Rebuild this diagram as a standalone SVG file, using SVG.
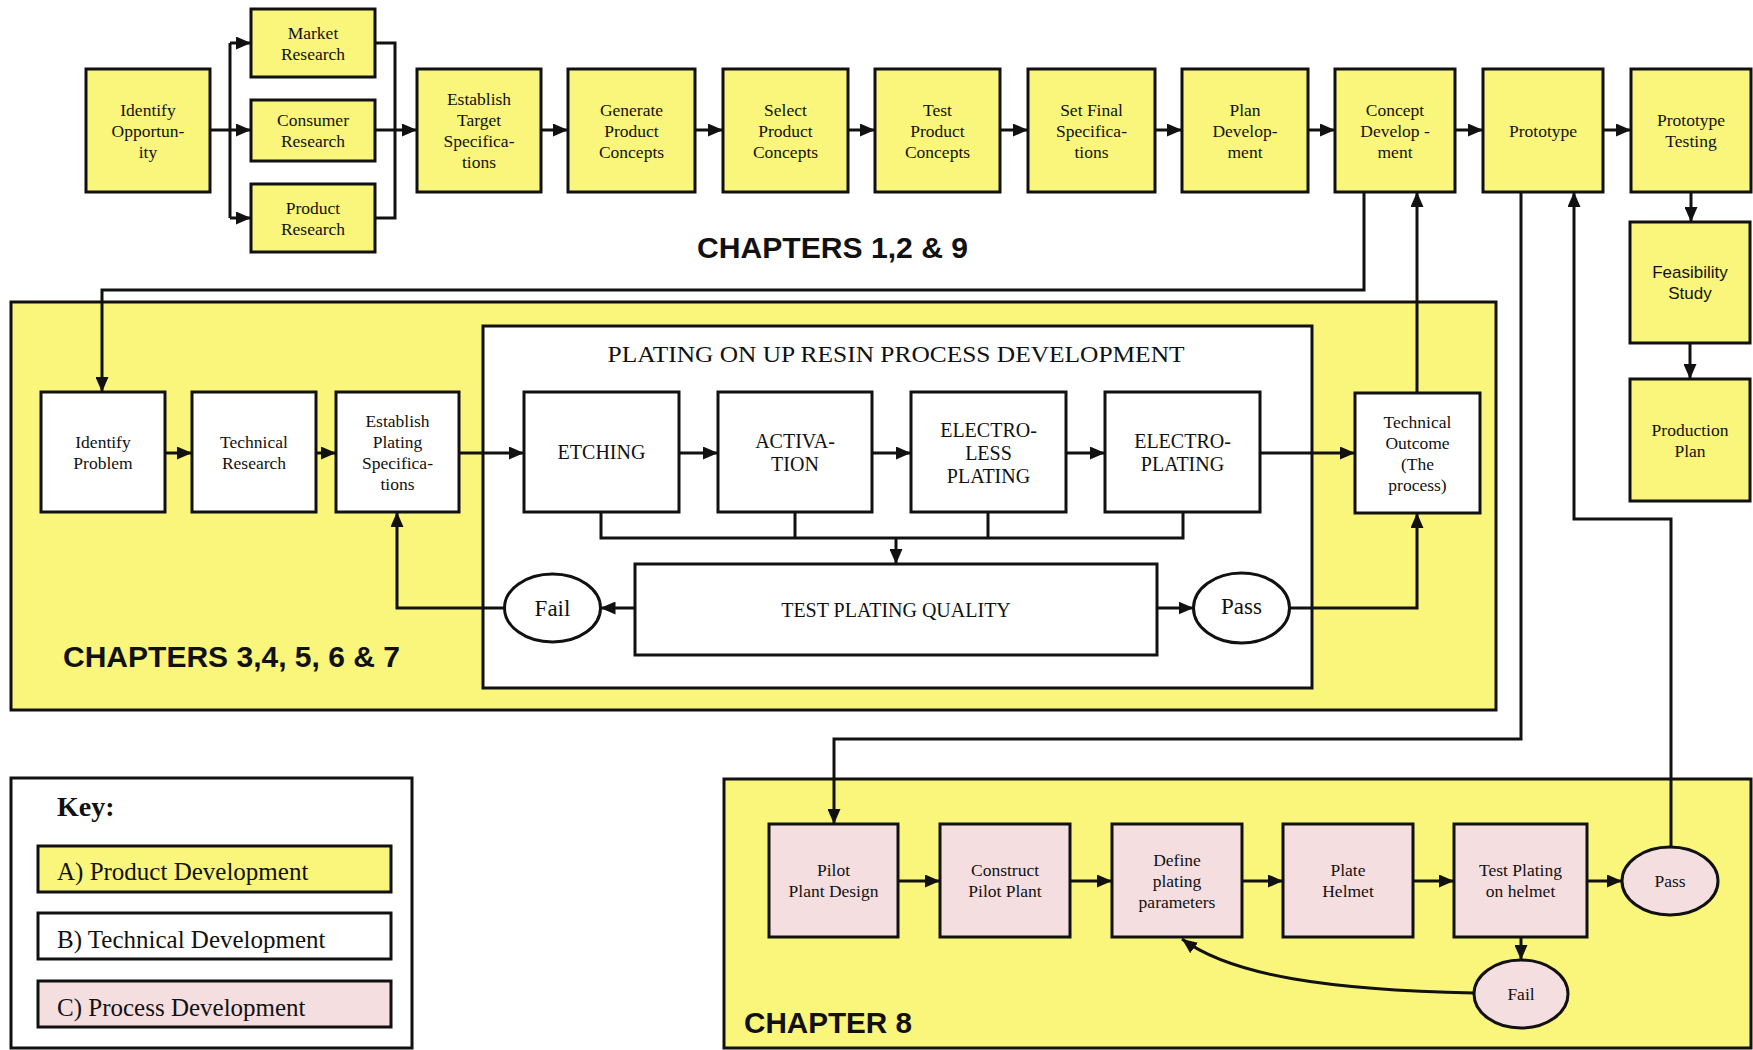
<svg xmlns="http://www.w3.org/2000/svg" width="1753" height="1050" viewBox="0 0 1753 1050">
<style>
.y{fill:#FAF67C;stroke:#111;stroke-width:3}
.w{fill:#fff;stroke:#111;stroke-width:3}
.p{fill:#F5DEE0;stroke:#111;stroke-width:3}
.c{fill:none;stroke:#111;stroke-width:3}
.a{marker-end:url(#ah)}
text{fill:#111}
.t{font-family:"Liberation Serif","Times New Roman",serif;font-size:17.5px;text-anchor:middle}
.s{font-family:"Liberation Sans",Arial,sans-serif;font-size:17px;text-anchor:middle}
.big{font-family:"Liberation Serif","Times New Roman",serif;font-size:20px;text-anchor:middle}
.fp{font-family:"Liberation Serif","Times New Roman",serif;font-size:23px;text-anchor:middle}
.h{font-family:"Liberation Sans",Arial,sans-serif;font-size:29px;font-weight:bold}
.k{font-family:"Liberation Serif","Times New Roman",serif;font-size:25px}
</style>
<defs>
<marker id="ah" markerUnits="userSpaceOnUse" markerWidth="15" markerHeight="13" refX="15" refY="6.5" orient="auto">
<path d="M0,0 L15,6.5 L0,13 z" fill="#111"/>
</marker>
</defs>
<rect width="1753" height="1050" fill="#fff"/>

<!-- containers -->
<g id="chapter3-area">
<rect class="y" x="11" y="302" width="1485" height="408"/>
<text class="h" x="63" y="667" textLength="337" lengthAdjust="spacingAndGlyphs">CHAPTERS 3,4, 5, 6 &amp; 7</text>
</g>
<g id="plating-process-area">
<rect class="w" x="483" y="326" width="829" height="362"/>
<text x="896" y="362" style="font-family:'Liberation Serif','Times New Roman',serif;font-size:24px;text-anchor:middle" textLength="577" lengthAdjust="spacingAndGlyphs">PLATING ON UP RESIN PROCESS DEVELOPMENT</text>
</g>
<g id="chapter8-area">
<rect class="y" x="724" y="779" width="1027" height="269"/>
<text class="h" x="744" y="1033" textLength="168" lengthAdjust="spacingAndGlyphs">CHAPTER 8</text>
</g>
<g id="chapters129-label">
<text class="h" x="697" y="258" textLength="271" lengthAdjust="spacingAndGlyphs">CHAPTERS 1,2 &amp; 9</text>
</g>
<g id="key">
<rect class="w" x="11" y="778" width="401" height="270"/>
<text x="57" y="816" style="font-family:'Liberation Serif','Times New Roman',serif;font-size:28px;font-weight:bold">Key:</text>
<rect class="y" x="38" y="846" width="353" height="46"/>
<text class="k" x="57" y="880">A) Product Development</text>
<rect class="w" x="38" y="913" width="353" height="46"/>
<text class="k" x="57" y="948">B) Technical Development</text>
<rect class="p" x="38" y="981" width="353" height="46"/>
<text class="k" x="57" y="1016">C) Process Development</text>
</g>

<!-- connectors -->
<g id="connectors">
<path class="c" d="M210,130 H230"/>
<path class="c" d="M230,43 V218"/>
<path class="c a" d="M230,43 H251"/>
<path class="c a" d="M230,130 H251"/>
<path class="c a" d="M230,218 H251"/>
<path class="c" d="M375,43 H395 V218 H375"/>
<path class="c a" d="M375,130 H417"/>
<path class="c a" d="M541,130 H568"/>
<path class="c a" d="M695,130 H723"/>
<path class="c a" d="M848,130 H875"/>
<path class="c a" d="M1000,130 H1028"/>
<path class="c a" d="M1155,130 H1182"/>
<path class="c a" d="M1308,130 H1335"/>
<path class="c a" d="M1455,130 H1483"/>
<path class="c a" d="M1603,130 H1631"/>
<path class="c a" d="M1691,192 V222"/>
<path class="c a" d="M1690,343 V379"/>

<path class="c a" d="M1364,192 V290 H102 V392"/>
<path class="c a" d="M165,453 H192"/>
<path class="c a" d="M316,453 H336"/>
<path class="c a" d="M459,453 H524"/>
<path class="c a" d="M679,453 H718"/>
<path class="c a" d="M872,453 H911"/>
<path class="c a" d="M1066,453 H1105"/>
<path class="c a" d="M1260,453 H1355"/>
<path class="c" d="M601,512 V538 H1183 V512"/>
<path class="c" d="M795,512 V538"/>
<path class="c" d="M988,512 V538"/>
<path class="c a" d="M896,538 V564"/>
<path class="c a" d="M635,608 H600.5"/>
<path class="c a" d="M504.5,608 H397 V512"/>
<path class="c a" d="M1157,608 H1193.5"/>
<path class="c a" d="M1289.5,608 H1417 V513"/>
<path class="c a" d="M1417,393 V192"/>

<path class="c a" d="M1521,192 V739 H834 V824"/>
<path class="c a" d="M898,881 H940"/>
<path class="c a" d="M1070,881 H1112"/>
<path class="c a" d="M1242,881 H1283"/>
<path class="c a" d="M1413,881 H1454"/>
<path class="c a" d="M1587,881 H1622"/>
<path class="c a" d="M1521,937 V960"/>
<path class="c a" d="M1474,993 C1330,990 1232,976 1182,939"/>
<path class="c a" d="M1671,847 V519 H1574 V192"/>
</g>

<!-- top row nodes -->
<g id="identify-opportunity">
<rect class="y" x="86" y="69" width="124" height="123"/>
<text class="t" x="148" y="115.5">Identify</text>
<text class="t" x="148" y="136.5">Opportun-</text>
<text class="t" x="148" y="157.5">ity</text>
</g>
<g id="market-research">
<rect class="y" x="251" y="9" width="124" height="68"/>
<text class="t" x="313" y="38.5">Market</text>
<text class="t" x="313" y="59.5">Research</text>
</g>
<g id="consumer-research">
<rect class="y" x="251" y="100" width="124" height="61"/>
<text class="t" x="313" y="126">Consumer</text>
<text class="t" x="313" y="147">Research</text>
</g>
<g id="product-research">
<rect class="y" x="251" y="184" width="124" height="68"/>
<text class="t" x="313" y="213.5">Product</text>
<text class="t" x="313" y="234.5">Research</text>
</g>
<g id="establish-target-specifications">
<rect class="y" x="417" y="69" width="124" height="123"/>
<text class="t" x="479" y="105">Establish</text>
<text class="t" x="479" y="126">Target</text>
<text class="t" x="479" y="147">Specifica-</text>
<text class="t" x="479" y="168">tions</text>
</g>
<g id="generate-product-concepts">
<rect class="y" x="568" y="69" width="127" height="123"/>
<text class="t" x="631.5" y="115.5">Generate</text>
<text class="t" x="631.5" y="136.5">Product</text>
<text class="t" x="631.5" y="157.5">Concepts</text>
</g>
<g id="select-product-concepts">
<rect class="y" x="723" y="69" width="125" height="123"/>
<text class="t" x="785.5" y="115.5">Select</text>
<text class="t" x="785.5" y="136.5">Product</text>
<text class="t" x="785.5" y="157.5">Concepts</text>
</g>
<g id="test-product-concepts">
<rect class="y" x="875" y="69" width="125" height="123"/>
<text class="t" x="937.5" y="115.5">Test</text>
<text class="t" x="937.5" y="136.5">Product</text>
<text class="t" x="937.5" y="157.5">Concepts</text>
</g>
<g id="set-final-specifications">
<rect class="y" x="1028" y="69" width="127" height="123"/>
<text class="t" x="1091.5" y="115.5">Set Final</text>
<text class="t" x="1091.5" y="136.5">Specifica-</text>
<text class="t" x="1091.5" y="157.5">tions</text>
</g>
<g id="plan-development">
<rect class="y" x="1182" y="69" width="126" height="123"/>
<text class="t" x="1245" y="115.5">Plan</text>
<text class="t" x="1245" y="136.5">Develop-</text>
<text class="t" x="1245" y="157.5">ment</text>
</g>
<g id="concept-development">
<rect class="y" x="1335" y="69" width="120" height="123"/>
<text class="t" x="1395" y="115.5">Concept</text>
<text class="t" x="1395" y="136.5">Develop -</text>
<text class="t" x="1395" y="157.5">ment</text>
</g>
<g id="prototype">
<rect class="y" x="1483" y="69" width="120" height="123"/>
<text class="t" x="1543" y="136.5">Prototype</text>
</g>
<g id="prototype-testing">
<rect class="y" x="1631" y="69" width="120" height="123"/>
<text class="t" x="1691" y="126">Prototype</text>
<text class="t" x="1691" y="147">Testing</text>
</g>
<g id="feasibility-study">
<rect class="y" x="1630" y="222" width="120" height="121"/>
<text class="s" x="1690" y="278">Feasibility</text>
<text class="s" x="1690" y="299">Study</text>
</g>
<g id="production-plan">
<rect class="y" x="1630" y="379" width="120" height="122"/>
<text class="t" x="1690" y="435.5">Production</text>
<text class="t" x="1690" y="456.5">Plan</text>
</g>

<!-- chapter 3-7 nodes -->
<g id="identify-problem">
<rect class="w" x="41" y="392" width="124" height="120"/>
<text class="t" x="103" y="447.5">Identify</text>
<text class="t" x="103" y="468.5">Problem</text>
</g>
<g id="technical-research">
<rect class="w" x="192" y="392" width="124" height="120"/>
<text class="t" x="254" y="447.5">Technical</text>
<text class="t" x="254" y="468.5">Research</text>
</g>
<g id="establish-plating-specifications">
<rect class="w" x="336" y="392" width="123" height="120"/>
<text class="t" x="397.5" y="426.5">Establish</text>
<text class="t" x="397.5" y="447.5">Plating</text>
<text class="t" x="397.5" y="468.5">Specifica-</text>
<text class="t" x="397.5" y="489.5">tions</text>
</g>
<g id="etching">
<rect class="w" x="524" y="392" width="155" height="120"/>
<text class="big" x="601.5" y="459">ETCHING</text>
</g>
<g id="activation">
<rect class="w" x="718" y="392" width="154" height="120"/>
<text class="big" x="795" y="448">ACTIVA-</text>
<text class="big" x="795" y="471">TION</text>
</g>
<g id="electroless-plating">
<rect class="w" x="911" y="392" width="155" height="120"/>
<text class="big" x="988.5" y="436.5">ELECTRO-</text>
<text class="big" x="988.5" y="459.5">LESS</text>
<text class="big" x="988.5" y="482.5">PLATING</text>
</g>
<g id="electroplating">
<rect class="w" x="1105" y="392" width="155" height="120"/>
<text class="big" x="1182.5" y="448">ELECTRO-</text>
<text class="big" x="1182.5" y="471">PLATING</text>
</g>
<g id="technical-outcome">
<rect class="w" x="1355" y="393" width="125" height="120"/>
<text class="t" x="1417.5" y="427.5">Technical</text>
<text class="t" x="1417.5" y="448.5">Outcome</text>
<text class="t" x="1417.5" y="469.5">(The</text>
<text class="t" x="1417.5" y="490.5">process)</text>
</g>
<g id="test-plating-quality">
<rect class="w" x="635" y="564" width="522" height="91"/>
<text class="big" x="896" y="617">TEST PLATING QUALITY</text>
</g>
<g id="fail-1">
<ellipse class="w" cx="552.5" cy="608" rx="48" ry="34"/>
<text class="fp" x="552.5" y="616">Fail</text>
</g>
<g id="pass-1">
<ellipse class="w" cx="1241.5" cy="608" rx="48" ry="35"/>
<text class="fp" x="1241.5" y="614">Pass</text>
</g>

<!-- chapter 8 nodes -->
<g id="pilot-plant-design">
<rect class="p" x="769" y="824" width="129" height="113"/>
<text class="t" x="833.5" y="876">Pilot</text>
<text class="t" x="833.5" y="897">Plant Design</text>
</g>
<g id="construct-pilot-plant">
<rect class="p" x="940" y="824" width="130" height="113"/>
<text class="t" x="1005" y="876">Construct</text>
<text class="t" x="1005" y="897">Pilot Plant</text>
</g>
<g id="define-plating-parameters">
<rect class="p" x="1112" y="824" width="130" height="113"/>
<text class="t" x="1177" y="865.5">Define</text>
<text class="t" x="1177" y="886.5">plating</text>
<text class="t" x="1177" y="907.5">parameters</text>
</g>
<g id="plate-helmet">
<rect class="p" x="1283" y="824" width="130" height="113"/>
<text class="t" x="1348" y="876">Plate</text>
<text class="t" x="1348" y="897">Helmet</text>
</g>
<g id="test-plating-on-helmet">
<rect class="p" x="1454" y="824" width="133" height="113"/>
<text class="t" x="1520.5" y="876">Test Plating</text>
<text class="t" x="1520.5" y="897">on helmet</text>
</g>
<g id="pass-2">
<ellipse class="p" cx="1670" cy="881" rx="48" ry="34"/>
<text class="t" x="1670" y="887">Pass</text>
</g>
<g id="fail-2">
<ellipse class="p" cx="1521" cy="994" rx="47" ry="34"/>
<text class="t" x="1521" y="1000">Fail</text>
</g>
</svg>
